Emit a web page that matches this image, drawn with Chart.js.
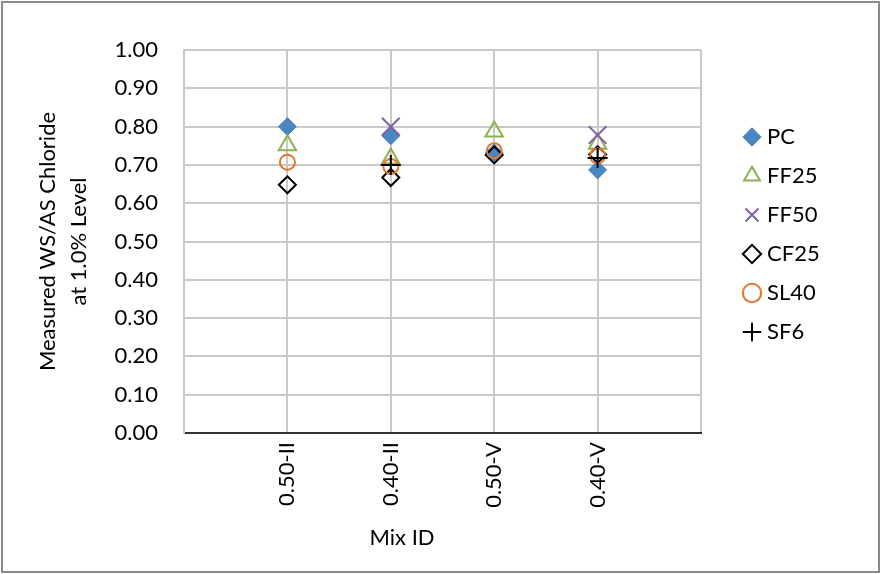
<!DOCTYPE html>
<html><head><meta charset="utf-8">
<script src="https://cdn.jsdelivr.net/npm/chart.js@4"></script>
<style>html,body{margin:0;padding:0;background:#fff}#wrap{width:881px;height:574px;position:relative}</style>
</head><body><div id="wrap"><canvas id="c" width="881" height="574"></canvas></div>
<script>
// ---- data ----
const categories = ['', '0.50-II', '0.40-II', '0.50-V', '0.40-V', ''];
const seriesNames = ['PC', 'FF25', 'FF50', 'CF25', 'SL40', 'SF6'];
const pcValues   = [null, 0.800, 0.776, 0.731, 0.687, null];
const ff25Values = [null, 0.751, 0.717, 0.787, 0.755, null];
const ff50Values = [null, null,  0.800, null,  0.778, null];
const cf25Values = [null, 0.648, 0.667, 0.726, 0.727, null];
const sl40Values = [null, 0.707, 0.696, 0.737, 0.723, null];
const sf6Values  = [null, null,  0.700, null,  0.718, null];
const yTicks = [0, 0.1, 0.2, 0.3, 0.4, 0.5, 0.6, 0.7, 0.8, 0.9, 1.0];
const yTitle = ['Measured WS/AS Chloride', 'at 1.0% Level'];
const xTitle = 'Mix ID';

const FONT = 'Lato, "Open Sans", sans-serif';

function mk(label, data, style, radius, border, fill, bw, order) {
  return {
    label, data, showLine: false, order,
    pointStyle: style, pointRadius: radius, pointHoverRadius: radius,
    pointBorderColor: border, pointBackgroundColor: fill, pointBorderWidth: bw,
    borderColor: border, backgroundColor: fill, borderWidth: bw
  };
}

const frame = {
  id: 'frame',
  beforeDraw(chart) {
    const ctx = chart.ctx;
    ctx.save();
    ctx.fillStyle = '#fff';
    ctx.fillRect(0, 0, chart.width, chart.height);
    ctx.strokeStyle = '#8a8a8a';
    ctx.lineWidth = 2;
    ctx.strokeRect(2, 2, chart.width - 4, chart.height - 4);
    ctx.restore();
  },
  afterLayout(chart) {
    const lg = chart.legend, ca = chart.chartArea;
    const w = lg.width, h = lg.height;
    lg.left = ca.right + 30; lg.right = lg.left + w;
    lg.top = ca.top + 59; lg.bottom = lg.top + h;
  },
  afterDraw(chart) {
    const xs = chart.scales.x, ctx = chart.ctx;
    ctx.save();
    ctx.font = '22px ' + FONT;
    ctx.fillStyle = '#000';
    ctx.textAlign = 'center';
    ctx.textBaseline = 'middle';
    ctx.fillText(xTitle, xs.left + (xs.right - xs.left) * 0.4217, xs.bottom - 26);
    ctx.restore();
  }
};

function draw() {
  Chart.defaults.font.family = FONT;
  Chart.defaults.color = '#000';
  new Chart(document.getElementById('c'), {
    type: 'line',
    data: {
      labels: categories,
      datasets: [
        mk(seriesNames[0], pcValues,   'rectRot',  9,    '#4a86bf', '#4a86bf', 1, 6),
        mk(seriesNames[1], ff25Values, 'triangle', 10,   '#8fb050', 'rgba(0,0,0,0)', 2, 5),
        mk(seriesNames[2], ff50Values, 'crossRot', 12.5, '#7f62a0', 'rgba(0,0,0,0)', 2, 4),
        mk(seriesNames[3], cf25Values, 'rectRot',  8.5,  '#000000', 'rgba(0,0,0,0)', 2, 3),
        mk(seriesNames[4], sl40Values, 'circle',   7.5,  '#e0782f', 'rgba(0,0,0,0)', 2, 2),
        mk(seriesNames[5], sf6Values,  'cross',    10,   '#000000', 'rgba(0,0,0,0)', 2, 1)
      ]
    },
    options: {
      responsive: false,
      animation: false,
      devicePixelRatio: 1,
      layout: { padding: { left: 10, top: 50, right: 90, bottom: 10 } },
      plugins: {
        tooltip: { enabled: false },
        legend: {
          position: 'right',
          align: 'start',
          fullSize: false,
          maxWidth: 90,
          labels: {
            usePointStyle: true,
            boxWidth: 8,
            boxHeight: 13,
            padding: 17,
            color: '#000',
            font: { size: 22, family: FONT },
            sort: (a, b) => a.datasetIndex - b.datasetIndex
          }
        }
      },
      scales: {
        x: {
          type: 'category',
          offset: false,
          grid: { color: '#c9c9c9', lineWidth: 2, drawTicks: false },
          border: { color: '#333', width: 2 },
          ticks: {
            autoSkip: false, minRotation: 90, maxRotation: 90, padding: 9,
            color: '#000', font: { size: 22, family: FONT }
          },
          afterFit(s) { s.height = 131; }
        },
        y: {
          min: 0, max: 1,
          afterBuildTicks(s) { s.ticks = yTicks.map(v => ({ value: v })); },
          grid: { color: '#c9c9c9', lineWidth: 2, drawTicks: false },
          border: { color: '#c9c9c9', width: 2 },
          ticks: {
            padding: 26, color: '#000', font: { size: 22, family: FONT },
            callback: v => Number(v).toFixed(2)
          },
          title: {
            display: true, text: yTitle, color: '#000',
            font: { size: 22, family: FONT, lineHeight: 31 / 22 },
            padding: { top: 22.5, bottom: 0 }
          },
          afterFit(s) { s.width = 174; }
        }
      }
    },
    plugins: [frame]
  });
}

if (document.fonts && document.fonts.load) {
  document.fonts.load('22px Lato').then(draw, draw);
} else { draw(); }
</script>
</body></html>
